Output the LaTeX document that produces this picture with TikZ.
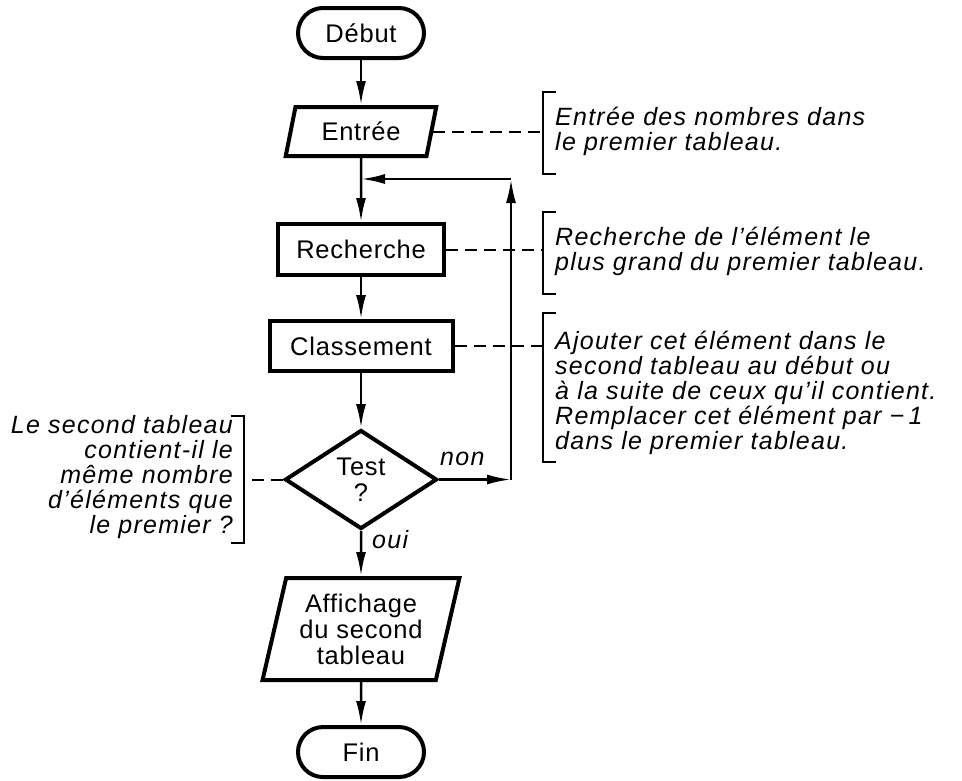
\documentclass[tikz,border=0pt]{standalone}
\usepackage{fontspec}
\setmainfont{Liberation Sans}
\newfontfamily\boxfont{Liberation Sans}[LetterSpace=3]
\newfontfamily\notefont{Liberation Sans}[LetterSpace=5]
\usetikzlibrary{shapes.geometric, shapes.misc, positioning, arrows.meta}

\tikzset{
  box/.style={draw, line width=4pt, font=\boxfont\fontsize{25.5}{26}\selectfont, align=center, inner sep=2pt},
  term/.style={box, rounded rectangle, minimum width=130pt, minimum height=50pt},
  proc/.style={box, rectangle, minimum height=51pt},
  io/.style={box, trapezium, trapezium left angle=75, trapezium right angle=105, trapezium stretches=true},
  decision/.style={box, diamond, minimum width=152pt, minimum height=99pt, inner sep=0pt},
  flow/.style={-{Latex[length=24pt,width=10pt]}, line width=2.5pt},
  link/.style={dash pattern=on 12pt off 7pt, line width=2pt},
  brace/.style={line width=2.5pt},
  notetext/.style={font=\notefont\itshape\fontsize{25}{25}\selectfont, inner sep=0pt},
}

\begin{document}
\begin{tikzpicture}[x=1pt, y=-1pt, >=Latex]
\useasboundingbox (0,0) rectangle (962,780);
%
\node[term] (debut) at (361,33) {Début};
\node[io, below=45pt of debut, minimum width=152pt, minimum height=49pt] (entree) {Entrée};
\node[proc, below=64pt of entree, minimum width=166pt] (recherche) {Recherche};
\node[proc, below=42pt of recherche, minimum width=183pt, minimum height=50pt] (classement) {Classement};
\node[decision, below=55pt of classement] (test) {Test\\?};
\node[io, below=45pt of test, minimum width=197pt, minimum height=102pt] (affichage) {Affichage\\du second\\tableau};
\node[term, below=43pt of affichage] (fin) {Fin};
%
\draw[flow] (debut) -- (entree);
\draw[flow] (entree) -- (recherche);
\draw[flow] (recherche) -- (classement);
\draw[flow] (classement) -- (test);
\draw[flow] (test) -- (affichage);
\draw[flow] (affichage) -- (fin);
%
\coordinate (retT) at (511,179);
\draw[flow] (test.east) -- (test.east -| retT);
\draw[flow] (test.east -| retT) -- (retT);
\draw[flow] (retT) -- (retT -| entree.south);
\node[notetext, anchor=base west] (non) at (440,465) {non};
\node[notetext, anchor=base west] (oui) at (372,548) {oui};
%
\coordinate (bEntree) at (543,92);
\coordinate (bRecherche) at (543,212);
\coordinate (bClassement) at (543,313);
\coordinate (bTest) at (244,416);
\draw[brace] ([xshift=13pt]bEntree) -- (bEntree) -- (543,174) -- ++(13,0);
\draw[brace] ([xshift=13pt]bRecherche) -- (bRecherche) -- (543,294) -- ++(13,0);
\draw[brace] ([xshift=13pt]bClassement) -- (bClassement) -- (543,462) -- ++(13,0);
\draw[brace] ([xshift=-13pt]bTest) -- (bTest) -- (244,543) -- ++(-13,0);
\draw[link] (entree.east) -- (entree.east -| bEntree);
\draw[link] (recherche.east) -- (recherche.east -| bRecherche);
\draw[link] (classement.east) -- (classement.east -| bClassement);
\draw[link] (test.west) -- (test.west -| bTest);
%
\node[notetext, anchor=base west, align=left] (nEntree) at (555,150)
  {Entrée des nombres dans\\le premier tableau.};
\node[notetext, anchor=base west, align=left] (nRecherche) at (555,270)
  {Recherche de l’élément le\\plus grand du premier tableau.};
\node[notetext, anchor=base west, align=left] (nClassement) at (555,449)
  {Ajouter cet élément dans le\\second tableau au début ou\\à la suite de ceux qu’il contient.\\Remplacer cet élément par −\,1\\dans le premier tableau.};
\node[notetext, anchor=base east, align=right] (nTest) at (233,533)
  {Le second tableau\\contient-il le\\même nombre\\d’éléments que\\le premier ?};
\end{tikzpicture}
\end{document}
